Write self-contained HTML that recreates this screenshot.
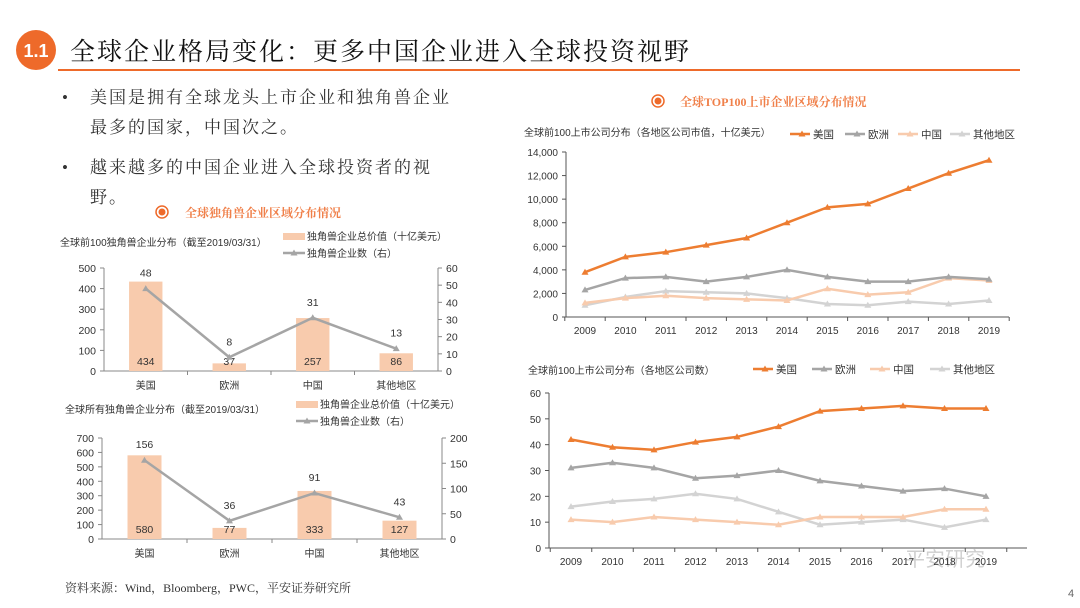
<!DOCTYPE html>
<html><head><meta charset="utf-8"><style>
body{margin:0;background:#fff}
svg{display:block;font-family:"Liberation Sans","Noto Sans CJK SC",sans-serif}
.serif{font-family:"Liberation Serif","Noto Serif CJK SC",serif}
</style></head><body>
<svg id="s" width="1080" height="608" viewBox="0 0 1080 608" xmlns="http://www.w3.org/2000/svg">
<g>
<circle cx="36" cy="50" r="20" fill="#ee6a2a"/>
<text x="36" y="57" font-size="18" font-weight="bold" fill="#fff" text-anchor="middle">1.1</text>
<text x="70" y="60" font-size="25" class="serif" fill="#111" letter-spacing="2">全球企业格局变化：更多中国企业进入全球投资视野</text>
<line x1="58" y1="70" x2="1020" y2="70" stroke="#ee6a2a" stroke-width="2"/>
</g>
<g class="serif" font-size="17" fill="#333">
<text x="62" y="103">•</text><text x="90" y="103" letter-spacing="2">美国是拥有全球龙头上市企业和独角兽企业</text>
<text x="90" y="133" letter-spacing="2">最多的国家，中国次之。</text>
<text x="62" y="173">•</text><text x="90" y="173" letter-spacing="2">越来越多的中国企业进入全球投资者的视</text>
<text x="90" y="203" letter-spacing="2">野。</text>
</g>
<g>
<circle cx="162" cy="212" r="6" fill="none" stroke="#ee6a2a" stroke-width="1.5"/><circle cx="162" cy="212" r="3.5" fill="#ee6a2a"/>
<text x="185" y="217" font-size="12" font-weight="bold" fill="#f0804a" class="serif">全球独角兽企业区域分布情况</text>
</g>
<g>
<circle cx="658" cy="101" r="6" fill="none" stroke="#ee6a2a" stroke-width="1.5"/><circle cx="658" cy="101" r="3.5" fill="#ee6a2a"/>
<text x="680" y="106" font-size="12" font-weight="bold" fill="#f0804a" class="serif">全球TOP100上市企业区域分布情况</text>
</g>
<text x="65" y="592" font-size="12" class="serif" fill="#333">资料来源：Wind，Bloomberg，PWC，平安证券研究所</text>
<text x="1068" y="597" font-size="11" fill="#666">4</text>
<text x="905" y="566" font-size="20" fill="#bbb" opacity="0.7">平安研究</text>
<g id="g"></g>
</svg>
<script>
const regions=["美国","欧洲","中国","其他地区"];
const uniTopValue=[434,37,257,86];
const uniTopCount=[48,8,31,13];
const uniAllValue=[580,77,333,127];
const uniAllCount=[156,36,91,43];
const years=["2009","2010","2011","2012","2013","2014","2015","2016","2017","2018","2019"];
const capUS=[3800,5100,5500,6100,6700,8000,9300,9600,10900,12200,13300];
const capEU=[2300,3300,3400,3000,3400,4000,3400,3000,3000,3400,3200];
const capCN=[1200,1600,1800,1600,1500,1400,2400,1900,2100,3300,3100];
const capOT=[1000,1700,2200,2100,2000,1600,1100,1000,1300,1100,1400];
const numUS=[42,39,38,41,43,47,53,54,55,54,54];
const numEU=[31,33,31,27,28,30,26,24,22,23,20];
const numCN=[11,10,12,11,10,9,12,12,12,15,15];
const numOT=[16,18,19,21,19,14,9,10,11,8,11];
const seriesNames=["美国","欧洲","中国","其他地区"];
const colors=["#ed7d31","#a5a5a5","#f8cbad","#d3d3d3"];
const NS="http://www.w3.org/2000/svg";
const G=document.getElementById('g');
function el(t,a,p){const e=document.createElementNS(NS,t);for(const k in a)e.setAttribute(k,a[k]);(p||G).appendChild(e);return e;}
function tx(x,y,s,a,p){const e=el('text',Object.assign({x:x,y:y,'font-size':10,fill:'#333'},a),p);e.textContent=s;return e;}
function tri(x,y,c,p){return el('polygon',{points:`${x},${y-3.5} ${x+3.5},${y+2.5} ${x-3.5},${y+2.5}`,fill:c},p);}

function barChart(name,o,vals,cnts){
  const g=el('g',{});
  
  
  const yL=v=>o.y0-(v/o.lmax)*(o.y0-o.y1);
  const yR=v=>o.y0-(v/o.rmax)*(o.y0-o.y1);
  const xc=i=>o.x0+(i+0.5)*(o.x1-o.x0)/vals.length;
  tx(o.tx,o.ty,o.title,{'font-size':10},g);
  const sw=el('rect',{x:o.lx,y:o.ly-6,width:22,height:7,fill:'#f8cbad'},g);
  
  tx(o.lx+24,o.ly+1,"独角兽企业总价值（十亿美元）",{'font-size':10},g);
  el('line',{x1:o.lx,y1:o.ly+14,x2:o.lx+22,y2:o.ly+14,stroke:'#a5a5a5','stroke-width':2.5},g);
  tri(o.lx+11,o.ly+14,'#a5a5a5',g);
  tx(o.lx+24,o.ly+18,"独角兽企业数（右）",{'font-size':10},g);
  el('line',{x1:o.x0,y1:o.y1,x2:o.x0,y2:o.y0,stroke:'#888'},g);
  el('line',{x1:o.x1,y1:o.y1,x2:o.x1,y2:o.y0,stroke:'#888'},g);
  el('line',{x1:o.x0,y1:o.y0,x2:o.x1,y2:o.y0,stroke:'#888'},g);
  for(let v=0;v<=o.lmax;v+=o.lstep){const y=yL(v);el('line',{x1:o.x0-4,y1:y,x2:o.x0,y2:y,stroke:'#888'},g);tx(o.x0-8,y+4,String(v),{'text-anchor':'end','font-size':10.5},g);}
  for(let v=0;v<=o.rmax;v+=o.rstep){const y=yR(v);el('line',{x1:o.x1,y1:y,x2:o.x1+4,y2:y,stroke:'#888'},g);tx(o.x1+8,y+4,String(v),{'font-size':10.5},g);}
  for(let i=1;i<vals.length;i++){const x=o.x0+i*(o.x1-o.x0)/vals.length;el('line',{x1:x,y1:o.y0,x2:x,y2:o.y0+4,stroke:'#888'},g);}
  const bw=(o.x1-o.x0)/vals.length*0.4;
  vals.forEach((v,i)=>{
    const b=el('rect',{x:xc(i)-bw/2,y:yL(v),width:bw,height:o.y0-yL(v),fill:'#f8cbad'},g);
    
    tx(xc(i),o.y0-6,String(v),{'text-anchor':'middle','font-size':10.5},g);
    tx(xc(i),o.y0+18,regions[i],{'text-anchor':'middle','font-size':10},g);
  });
  const pl=el('polyline',{points:cnts.map((c,i)=>xc(i)+','+yR(c)).join(' '),fill:'none',stroke:'#a5a5a5','stroke-width':2.5},g);
  
  cnts.forEach((c,i)=>{tri(xc(i),yR(c),'#a5a5a5',g);tx(xc(i),yR(c)-12,String(c),{'text-anchor':'middle','font-size':10.5},g);});
}

function lineChart(name,o,data){
  const g=el('g',{});
  
  
  const y=v=>o.y0-(v/o.max)*(o.y0-o.y1);
  const x=i=>o.xa+i*(o.xb-o.xa)/(years.length-1);
  tx(o.tx,o.ty,o.title,{'font-size':10},g);
  o.leg.forEach((lx,k)=>{
    el('line',{x1:lx,y1:o.ly,x2:lx+20,y2:o.ly,stroke:colors[k],'stroke-width':2.5},g);
    tri(lx+12,o.ly,colors[k],g);
    tx(lx+23,o.ly+4,seriesNames[k],{'font-size':10.5},g);
  });
  el('line',{x1:o.x0,y1:o.y1,x2:o.x0,y2:o.y0,stroke:'#555'},g);
  el('line',{x1:o.x0,y1:o.y0,x2:o.x1,y2:o.y0,stroke:'#555'},g);
  for(let v=0;v<=o.max;v+=o.step){const yy=y(v);el('line',{x1:o.x0-4,y1:yy,x2:o.x0,y2:yy,stroke:'#555'},g);tx(o.x0-8,yy+4,o.fmt(v),{'text-anchor':'end','font-size':10},g);}
  const dx=(o.xb-o.xa)/(years.length-1);
  for(let i=0;i<=years.length;i++){const xx=o.xa-dx/2+i*dx;el('line',{x1:xx,y1:o.y0,x2:xx,y2:o.y0+4,stroke:'#555'},g);}
  years.forEach((yr,i)=>tx(x(i),o.y0+17,yr,{'text-anchor':'middle','font-size':10},g));
  [3,2,1,0].forEach(k=>{
    const d=data[k];
    const pl=el('polyline',{points:d.map((v,i)=>x(i)+','+y(v)).join(' '),fill:'none',stroke:colors[k],'stroke-width':2.5},g);
    
    d.forEach((v,i)=>tri(x(i),y(v),colors[k],g));
  });
}

barChart('unicorn-top100-chart',{x0:104,x1:438,y0:371,y1:268,lmax:500,lstep:100,rmax:60,rstep:10,tx:60,ty:246,title:"全球前100独角兽企业分布（截至2019/03/31）",lx:283,ly:239},uniTopValue,uniTopCount);
barChart('unicorn-all-chart',{x0:102,x1:442,y0:539,y1:438,lmax:700,lstep:100,rmax:200,rstep:50,tx:65,ty:413,title:"全球所有独角兽企业分布（截至2019/03/31）",lx:296,ly:407},uniAllValue,uniAllCount);
lineChart('market-cap-chart',{x0:566,x1:1009,y0:317,y1:152,max:14000,step:2000,xa:585,xb:989,tx:524,ty:136,title:"全球前100上市公司分布（各地区公司市值，十亿美元）",leg:[790,845,898,950],ly:134,fmt:v=>v.toLocaleString('en-US')},[capUS,capEU,capCN,capOT]);
lineChart('company-count-chart',{x0:549,x1:1027,y0:548,y1:393,max:60,step:10,xa:571,xb:986,tx:528,ty:374,title:"全球前100上市公司分布（各地区公司数）",leg:[753,812,870,930],ly:369,fmt:v=>String(v)},[numUS,numEU,numCN,numOT]);
</script>
</body></html>
